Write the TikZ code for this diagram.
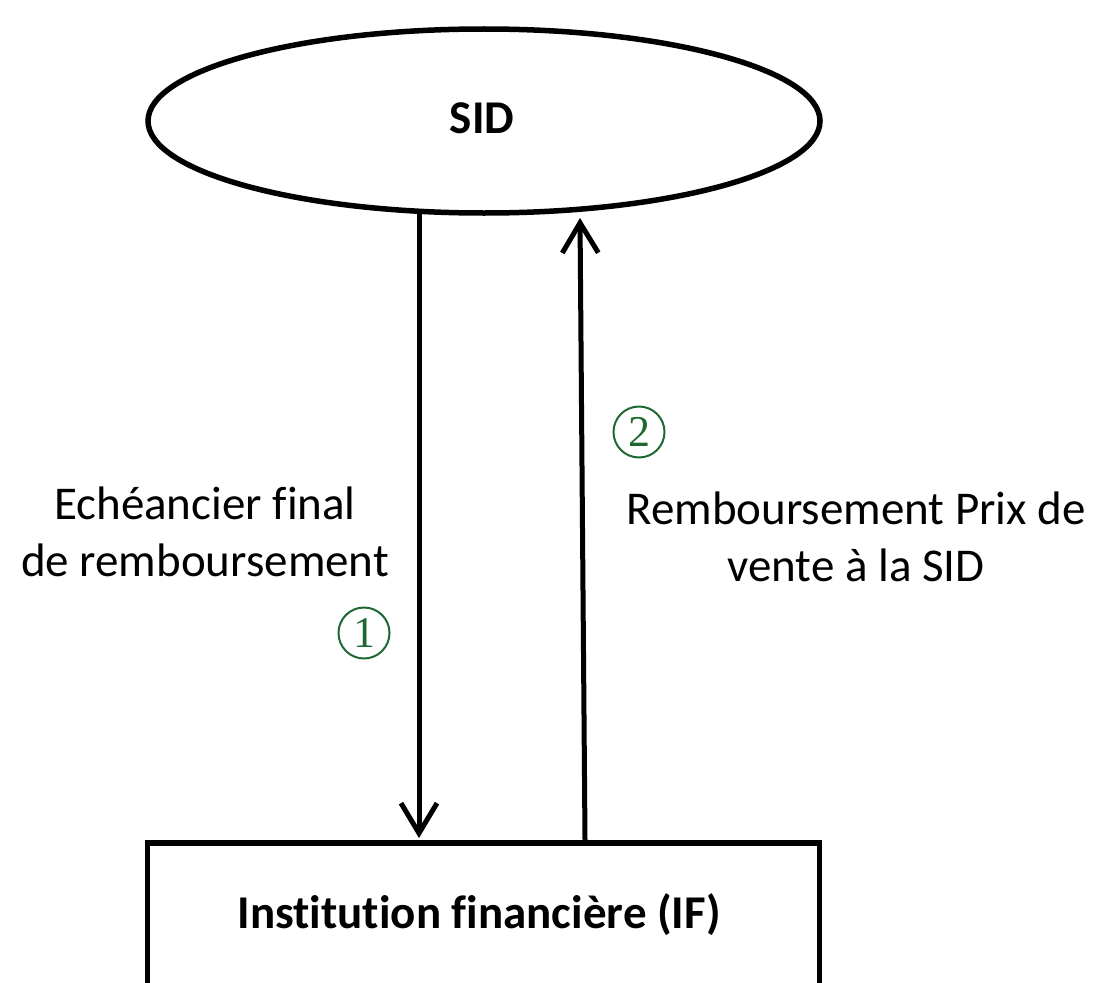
\documentclass[tikz,border=0pt]{standalone}
\usepackage{fontspec}
\setmainfont{Carlito}[Ligatures=NoCommon]
\newfontfamily\numfont{Liberation Serif}
\usetikzlibrary{shapes.geometric,arrows.meta}
\definecolor{numgreen}{RGB}{30,105,50}
\tikzset{
  shapeline/.style={draw=black,line width=5.5pt},
  flow/.style={line width=5pt,-{Straight Barb[length=30pt,width=36pt,line width=5pt]}},
  lbl/.style={font=\fontsize{47}{57}\selectfont,align=center,inner sep=0pt},
  boldlbl/.style={font=\bfseries\fontsize{47}{57}\selectfont,inner sep=0pt},
  numc/.style={circle,draw=numgreen,line width=2pt,minimum size=51pt,inner sep=0pt,
    text=numgreen,font=\numfont\fontsize{44}{44}\selectfont},
}
\begin{document}
\begin{tikzpicture}[x=1pt,y=-1pt]
\useasboundingbox (0,0) rectangle (1097,982);
\node[shapeline,ellipse,minimum width=672pt,minimum height=184pt,inner sep=0pt] (sid) at (484,121) {};
\node[boldlbl] (sidtext) at (482,118) {SID};
\node[shapeline,rectangle,minimum width=672pt,minimum height=146pt,inner sep=0pt,anchor=north] (if) at (483.5,840) {};
\node[boldlbl] (iftext) at (479,915) {Institution financière (IF)};
\coordinate (s1) at (419,214);
\coordinate (e1) at (419,838);
\coordinate (s2) at (585,840);
\coordinate (e2) at (580,218);
\draw[flow] (s1) -- (e1);
\draw[flow] (s2) -- (e2);
\node[lbl] (l1) at (205,532) {Echéancier final\\de remboursement};
\node[lbl] (l2) at (856,537) {Remboursement Prix de\\vente à la SID};
\node[numc] (n1) at (364,633) {1};
\node[numc] (n2) at (639,432) {2};
\end{tikzpicture}
\end{document}
